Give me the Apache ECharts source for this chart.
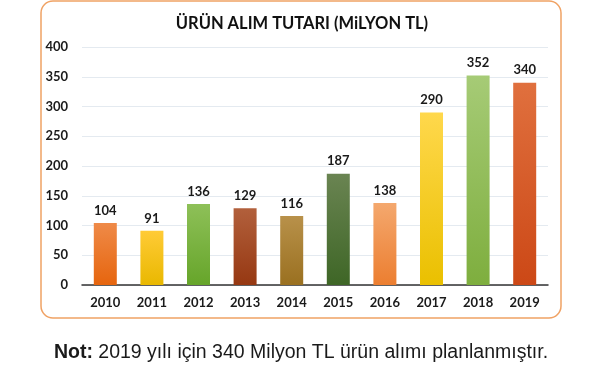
<!DOCTYPE html>
<html>
<head>
<meta charset="utf-8">
<script src="https://cdn.jsdelivr.net/npm/echarts@6/dist/echarts.min.js"></script>
<style>
html,body{margin:0;padding:0;background:#fff;}
#c{width:602px;height:366px;}
</style>
</head>
<body>
<div id="c"></div>
<script>
const titleText = 'ÜRÜN ALIM TUTARI (MiLYON TL)';
const noteBold = 'Not:';
const noteText = ' 2019 yılı için 340 Milyon TL ürün alımı planlanmıştır.';
const years = ['2010','2011','2012','2013','2014','2015','2016','2017','2018','2019'];
const values = [104, 91, 136, 129, 116, 187, 138, 290, 352, 340];
const topColors = ['#EF8A48','#FFCB36','#8EC058','#B2603C','#B8914A','#6A8452','#F4A86E','#FFD84C','#A6CB76','#E0703E'];
const bottomColors = ['#E6650E','#E9B800','#66A52A','#963812','#9A7020','#3E6626','#EC7E30','#EAC000','#7EAE3E','#CC4816'];

const chart = echarts.init(document.getElementById('c'), null, {renderer:'canvas'});
const data = values.map((v,i)=>({
  value:v,
  itemStyle:{color:new echarts.graphic.LinearGradient(0,0,0,1,[{offset:0,color:topColors[i]},{offset:1,color:bottomColors[i]}])}
}));
chart.setOption({
  animation:false,
  title:{text:titleText,left:297,top:10,textAlign:'center',
    textStyle:{fontFamily:'Lato',fontWeight:'bold',fontSize:16.5,color:'#111'}},
  grid:{left:82,right:54,top:47,bottom:81},
  xAxis:{type:'category',data:years,
    axisLine:{lineStyle:{color:'#333',width:1.5}},
    axisTick:{show:false},
    axisLabel:{fontFamily:'Lato',fontWeight:'bold',fontSize:13,color:'#1a1a1a',margin:11}},
  yAxis:{type:'value',min:0,max:400,interval:50,
    axisLine:{show:false},axisTick:{show:false},
    splitLine:{lineStyle:{color:'#E4EAF0',width:1}},
    axisLabel:{fontFamily:'Lato',fontWeight:'bold',fontSize:13,color:'#1a1a1a',margin:14}},
  series:[{type:'bar',data:data,barWidth:23,
    label:{show:true,position:'top',distance:6,fontFamily:'Lato',fontWeight:'bold',fontSize:13,color:'#1a1a1a'}}],
  graphic:[
    {type:'rect',shape:{x:41,y:1,width:520,height:317,r:12},
      style:{fill:'none',stroke:'#F0A264',lineWidth:1.5},z:-1},
    {type:'text',left:'center',top:343,
      style:{text:'{b|'+noteBold+'}{n|'+noteText+'}',
        rich:{b:{fontFamily:'Liberation Sans',fontWeight:'bold',fontSize:19.5,fill:'#1a1a1a'},
              n:{fontFamily:'Liberation Sans',fontSize:19.5,fill:'#1a1a1a'}}}}
  ]
});
</script>
</body>
</html>
